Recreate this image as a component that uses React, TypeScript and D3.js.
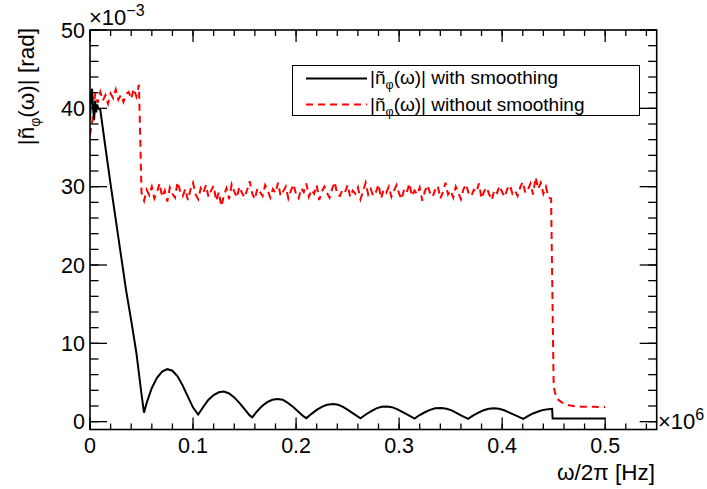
import React from "react";
import * as d3 from "d3";

// ---- data (x in units of 1e6 Hz, y in units of 1e-3 rad) ----
const smoothX = [
  0, 0.001, 0.002, 0.003, 0.004, 0.005, 0.006, 0.007, 0.008, 0.01, 0.015, 0.02, 0.025, 0.03, 0.035, 0.04, 0.045, 0.05, 0.0524,
  0.055, 0.06, 0.065, 0.07, 0.075, 0.08, 0.085, 0.09, 0.095, 0.1, 0.105,
  0.11, 0.115, 0.12, 0.125, 0.13, 0.135, 0.14, 0.145, 0.15, 0.155, 0.1575,
  0.162, 0.167, 0.172, 0.177, 0.182, 0.187, 0.192, 0.197, 0.202, 0.207, 0.21,
  0.215, 0.22, 0.225, 0.23, 0.236, 0.241, 0.246, 0.251, 0.256, 0.2625,
  0.268, 0.273, 0.278, 0.283, 0.288, 0.293, 0.298, 0.303, 0.309, 0.315,
  0.32, 0.325, 0.33, 0.335, 0.341, 0.346, 0.351, 0.356, 0.361, 0.367,
  0.372, 0.377, 0.382, 0.387, 0.392, 0.397, 0.402, 0.407, 0.413, 0.4205,
  0.425, 0.43, 0.435, 0.44, 0.445, 0.4485, 0.449, 0.5,
];
const smoothY = [
  38.5, 41.5, 42.5, 40.0, 38.5, 41.0, 39.5, 40.5, 40.0, 39.8, 35.0, 30.3, 25.8, 21.3, 16.8, 12.9, 8.8, 3.5, 1.15,
  2.4, 4.3, 5.6, 6.4, 6.7, 6.5, 5.8, 4.6, 3.2, 1.8, 0.9,
  1.9, 2.8, 3.4, 3.75, 3.85, 3.6, 3.1, 2.4, 1.6, 0.8, 0.55,
  1.3, 2.0, 2.5, 2.8, 2.9, 2.8, 2.4, 1.9, 1.3, 0.7, 0.45,
  1.0, 1.5, 1.9, 2.15, 2.25, 2.15, 1.85, 1.45, 1.0, 0.43,
  0.95, 1.35, 1.7, 1.9, 1.95, 1.85, 1.6, 1.25, 0.85, 0.4,
  0.85, 1.2, 1.5, 1.7, 1.75, 1.65, 1.45, 1.1, 0.75, 0.35,
  0.8, 1.15, 1.45, 1.65, 1.7, 1.65, 1.45, 1.15, 0.8, 0.35,
  0.7, 1.05, 1.3, 1.5, 1.6, 1.65, 0.4, 0.4,
];

const rawStart = 0;
const rawStep = 0.0025;
const rawY = [
  // 0 - 0.0475
  36.6, 38.6, 41.9, 40.7, 42.1, 41.0, 41.7, 40.6, 41.9, 41.3, 42.4, 41.1, 41.7, 40.8, 41.8, 42.1, 41.2, 42.5, 41.5, 43.0,
  // 0.05 - 0.0975
  29.2, 28.2, 29.6, 28.9, 30.0, 28.5, 29.3, 30.4, 28.7, 29.5, 28.1, 29.9, 29.1, 28.6, 30.6, 29.4, 28.8, 29.7, 28.3, 29.6,
  // 0.10 - 0.1475
  30.5, 29.0, 28.4, 29.8, 29.2, 30.2, 28.7, 29.5, 30.1, 28.2, 29.3, 27.5, 28.9, 29.8, 28.4, 30.3, 29.4, 28.6, 30.0, 29.2,
  // 0.15 - 0.1975
  28.6, 29.6, 30.7, 29.1, 28.4, 29.8, 29.3, 28.8, 30.2, 29.5, 28.6, 29.7, 29.2, 30.5, 28.8, 29.4, 30.0, 28.5, 29.5, 30.3,
  // 0.20 - 0.2475
  29.0, 28.5, 29.8, 29.3, 30.4, 28.7, 29.6, 29.1, 30.2, 28.3, 29.4, 30.0, 29.2, 28.6, 29.7, 30.6, 29.0, 28.8, 29.6, 29.3,
  // 0.25 - 0.2975
  30.2, 28.7, 29.5, 29.1, 29.9, 28.4, 29.4, 30.5, 29.0, 29.7, 28.8, 29.3, 30.3, 28.5, 29.6, 29.2, 30.0, 28.7, 29.5, 30.2,
  // 0.30 - 0.3475
  29.1, 28.4, 29.7, 29.3, 30.4, 28.8, 29.5, 29.0, 29.9, 28.2, 29.4, 30.2, 29.2, 28.7, 29.6, 30.1, 28.5, 29.3, 30.5, 29.0,
  // 0.35 - 0.3975
  29.5, 28.6, 30.0, 29.2, 28.4, 29.7, 30.3, 29.1, 28.8, 29.6, 29.3, 30.4, 28.5, 29.4, 29.9, 29.0, 28.3, 29.6, 29.2, 30.1,
  // 0.40 - 0.4475
  29.3, 28.7, 29.7, 30.2, 29.1, 29.5, 28.8, 29.9, 30.6, 29.2, 29.6, 30.4, 29.0, 31.2, 29.7, 30.5, 29.1, 30.0, 28.6, 28.5,
  // 0.45 - 0.50
  4.5, 3.0, 2.75, 2.5, 2.35, 2.2, 2.1, 2.03, 1.98, 1.95, 1.93, 1.92, 1.91, 1.9, 1.9, 1.89, 1.89, 1.88, 1.88, 1.88, 1.88,
];

const xMajorTicks = [0, 0.1, 0.2, 0.3, 0.4, 0.5];
const xTickLabels = ["0", "0.1", "0.2", "0.3", "0.4", "0.5"];
const yMajorTicks = [0, 10, 20, 30, 40, 50];
const yTickLabels = ["0", "10", "20", "30", "40", "50"];

const legendLabels = ["with smoothing", "without smoothing"];

const FONT = "'Liberation Sans', Arial, Helvetica, sans-serif";

export default function App() {
  const L = 90, R = 656.7, T = 30, B = 429.5;
  const x = d3.scaleLinear().domain([0, 0.55]).range([L, R]);
  const y = d3.scaleLinear().domain([-1, 50]).range([B, T]);

  const smoothData = smoothX.map((v, i) => [v, smoothY[i]] as [number, number]);
  const rawData = rawY.map((v, i) => [rawStart + i * rawStep, v] as [number, number]);

  const line = d3.line<[number, number]>().x((d) => x(d[0])).y((d) => y(d[1]));

  const xMinor = d3.range(0, 0.5501, 0.02);
  const yMinor = d3.range(0, 50.01, 2);

  const nLabel = (fs: number, sub: number) => (
    <>
      {"|ñ"}
      <tspan fontSize={sub} dy={fs * 0.28}>φ</tspan>
      <tspan dy={-fs * 0.28}>{"(ω)|"}</tspan>
    </>
  );

  return (
    <svg width={707} height={489} style={{ position: "absolute", left: 0, top: 0, background: "#fff" }} fontFamily={FONT}>
      <rect x={0} y={0} width={707} height={489} fill="#fff" />
      <defs>
        <clipPath id="frame">
          <rect x={L} y={T} width={R - L} height={B - T} />
        </clipPath>
      </defs>

      {/* data */}
      <g clipPath="url(#frame)">
        <path d={line(rawData) || ""} fill="none" stroke="#ff0000" strokeWidth={2} strokeDasharray="7 5" />
        <path d={line(smoothData) || ""} fill="none" stroke="#000" strokeWidth={2} />
      </g>

      {/* ticks */}
      <g stroke="#000" strokeWidth={1.3}>
        {xMinor.map((t, i) => (
          <g key={"xm" + i}>
            <line x1={x(t)} x2={x(t)} y1={B} y2={B - 6} />
            <line x1={x(t)} x2={x(t)} y1={T} y2={T + 6} />
          </g>
        ))}
        {xMajorTicks.map((t, i) => (
          <g key={"xM" + i}>
            <line x1={x(t)} x2={x(t)} y1={B} y2={B - 12} />
            <line x1={x(t)} x2={x(t)} y1={T} y2={T + 12} />
          </g>
        ))}
        {yMinor.map((t, i) => (
          <g key={"ym" + i}>
            <line x1={L} x2={L + 8.5} y1={y(t)} y2={y(t)} />
            <line x1={R} x2={R - 8.5} y1={y(t)} y2={y(t)} />
          </g>
        ))}
        {yMajorTicks.map((t, i) => (
          <g key={"yM" + i}>
            <line x1={L} x2={L + 17} y1={y(t)} y2={y(t)} />
            <line x1={R} x2={R - 17} y1={y(t)} y2={y(t)} />
          </g>
        ))}
      </g>

      {/* frame */}
      <rect x={L} y={T} width={R - L} height={B - T} fill="none" stroke="#000" strokeWidth={1.6} />

      {/* tick labels */}
      <g fontSize={21.5} fill="#000">
        {xMajorTicks.map((t, i) => (
          <text key={"xl" + i} x={x(t)} y={452.5} textAnchor="middle">{xTickLabels[i]}</text>
        ))}
        {yMajorTicks.map((t, i) => (
          <text key={"yl" + i} x={85} y={y(t)} dy="0.36em" textAnchor="end">{yTickLabels[i]}</text>
        ))}
      </g>

      {/* exponents */}
      <text x={89} y={25} fontSize={22}>
        ×10<tspan fontSize={16} dy={-9}>−3</tspan>
      </text>
      <text x={658} y={428.5} fontSize={22}>
        ×10<tspan fontSize={16} dy={-9}>6</tspan>
      </text>

      {/* axis titles */}
      <text x={655} y={480} fontSize={22.5} textAnchor="end">ω/2π [Hz]</text>
      <text transform="translate(34,28) rotate(-90)" fontSize={22.5} textAnchor="end">
        {nLabel(22.5, 14)}
        <tspan>{" [rad]"}</tspan>
      </text>

      {/* legend */}
      <rect x={292.5} y={65.5} width={347} height={50} fill="#fff" stroke="#000" strokeWidth={1} />
      <line x1={306} x2={367} y1={78.5} y2={78.5} stroke="#000" strokeWidth={2} />
      <line x1={306} x2={367} y1={104.5} y2={104.5} stroke="#ff0000" strokeWidth={2} strokeDasharray="7 5" />
      <text x={370} y={84} fontSize={19}>
        {nLabel(19, 12.5)}
        <tspan>{" " + legendLabels[0]}</tspan>
      </text>
      <text x={370} y={110.5} fontSize={19}>
        {nLabel(19, 12.5)}
        <tspan>{" " + legendLabels[1]}</tspan>
      </text>
    </svg>
  );
}
